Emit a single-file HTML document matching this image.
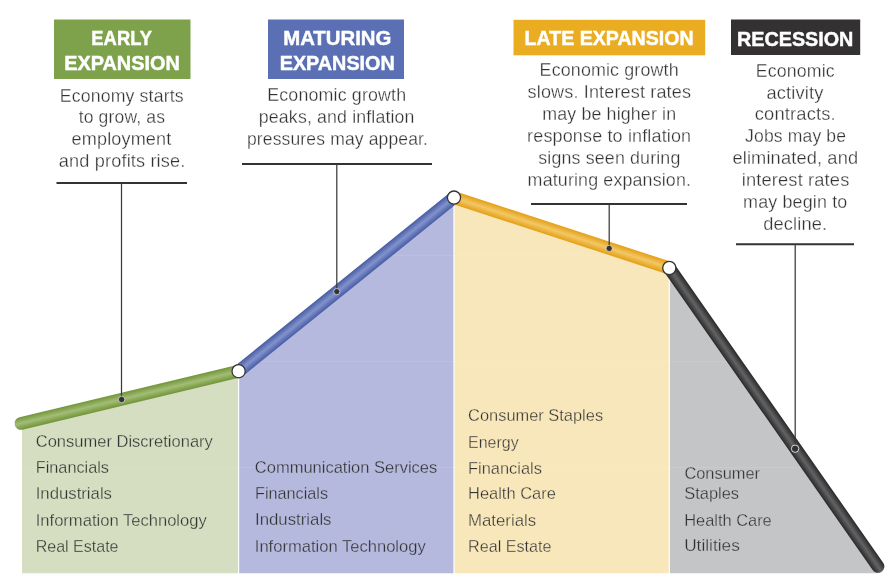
<!DOCTYPE html>
<html>
<head>
<meta charset="utf-8">
<style>
html,body{margin:0;padding:0;background:#fff;width:888px;height:583px;overflow:hidden}
svg{display:block;will-change:transform}
text{font-family:"Liberation Sans",sans-serif}
.t{font-weight:bold;font-size:19.8px;fill:#fff;stroke-width:0.45px}
.d{font-size:18.2px;letter-spacing:0.15px;fill:#323232;stroke-width:0.3px}
.l{font-size:16.6px;fill:#323232;stroke-width:0.32px}
</style>
</head>
<body>
<svg width="888" height="583" viewBox="0 0 888 583">
<defs>
<linearGradient id="g0" gradientUnits="userSpaceOnUse" x1="128.30" y1="391.03" x2="131.30" y2="403.57"><stop offset="0" stop-color="#76993f"/><stop offset="0.06" stop-color="#76993f"/><stop offset="0.5" stop-color="#a3bd76"/><stop offset="0.94" stop-color="#76993f"/><stop offset="1" stop-color="#76993f"/></linearGradient>
<linearGradient id="g1" gradientUnits="userSpaceOnUse" x1="342.25" y1="279.38" x2="350.35" y2="289.42"><stop offset="0" stop-color="#4d62a8"/><stop offset="0.06" stop-color="#4d62a8"/><stop offset="0.5" stop-color="#8292cc"/><stop offset="0.94" stop-color="#4d62a8"/><stop offset="1" stop-color="#4d62a8"/></linearGradient>
<linearGradient id="g2" gradientUnits="userSpaceOnUse" x1="563.65" y1="226.67" x2="559.65" y2="238.93"><stop offset="0" stop-color="#e6a31c"/><stop offset="0.06" stop-color="#e6a31c"/><stop offset="0.5" stop-color="#f2c766"/><stop offset="0.94" stop-color="#e6a31c"/><stop offset="1" stop-color="#e6a31c"/></linearGradient>
<linearGradient id="g3" gradientUnits="userSpaceOnUse" x1="778.89" y1="413.50" x2="768.31" y2="420.90"><stop offset="0" stop-color="#2f2f30"/><stop offset="0.06" stop-color="#2f2f30"/><stop offset="0.5" stop-color="#636365"/><stop offset="0.94" stop-color="#2f2f30"/><stop offset="1" stop-color="#2f2f30"/></linearGradient>
</defs>
<polygon points="22,423.9 238.0,371.2 238.0,573.2 22,573.2" fill="#d5dec0"/>
<polygon points="239.2,371.2 453.4,197.6 453.4,573.2 239.2,573.2" fill="#b5b9dd"/>
<polygon points="454.6,197.6 668.6999999999999,268.0 668.6999999999999,573.2 454.6,573.2" fill="#f8e7bb"/>
<polygon points="669.9,268.0 877.9,566.4 877.9,573.2 669.9,573.2" fill="#c4c5c7"/>
<g stroke="#fff" stroke-opacity="0.09" stroke-width="1">
<line x1="22" y1="255.5" x2="878" y2="255.5"/>
<line x1="22" y1="361.5" x2="878" y2="361.5"/>
<line x1="22" y1="467.5" x2="878" y2="467.5"/>
</g>
<g fill="none" stroke-linecap="round" stroke-width="12.9">
<line x1="21.0" y1="423.4" x2="238.6" y2="371.2" stroke="url(#g0)"/>
<line x1="238.6" y1="371.2" x2="454.0" y2="197.6" stroke="url(#g1)"/>
<line x1="454.0" y1="197.6" x2="669.3" y2="268.0" stroke="url(#g2)"/>
<line x1="669.3" y1="268.0" x2="877.9" y2="566.4" stroke="url(#g3)"/>
</g>
<g fill="#fff" stroke="#333" stroke-width="1.3">
<circle cx="238.6" cy="371.2" r="6.6"/>
<circle cx="454.0" cy="197.6" r="6.6"/>
<circle cx="669.3" cy="268.0" r="6.6"/>
</g>
<rect x="54" y="19.5" width="136.5" height="59.5" fill="#7ea24c"/>
<rect x="268" y="19.5" width="136" height="59.5" fill="#5b70b4"/>
<rect x="513.5" y="19.8" width="191.7" height="35.5" fill="#eaad22"/>
<rect x="731" y="19.5" width="129.2" height="35.5" fill="#333132"/>
<g stroke="#333" stroke-width="2">
<line x1="56.5" y1="183" x2="187" y2="183"/>
<line x1="242" y1="164" x2="432" y2="164"/>
<line x1="531" y1="204" x2="687" y2="204"/>
<line x1="736" y1="244.2" x2="854" y2="244.2"/>
</g>
<g stroke="#3a3a3a" stroke-width="1.25">
<line x1="121.5" y1="183" x2="121.5" y2="399.5"/>
<line x1="336.8" y1="164" x2="336.8" y2="291.6"/>
<line x1="609.2" y1="204" x2="609.2" y2="248.4"/>
<line x1="795.2" y1="244.2" x2="795.2" y2="448.7"/>
</g>
<g fill="#333" stroke="#fff" stroke-width="0.6">
<circle cx="121.6" cy="399.5" r="3.2"/>
<circle cx="336.8" cy="291.6" r="3.1"/>
<circle cx="609.2" cy="248.4" r="3.1"/>
</g>
<circle cx="795.1" cy="448.7" r="3.7" fill="#333" stroke="#fff" stroke-width="0.8"/>
<text class="t" transform="matrix(0.9281 0 0 1.04 91.37 44.6)" stroke="#fff">EARLY</text>
<text class="t" transform="matrix(1.0044 0 0 1.04 64.20 70.0)" stroke="#fff">EXPANSION</text>
<text class="t" transform="matrix(1.0272 0 0 1.04 283.27 44.6)" stroke="#fff">MATURING</text>
<text class="t" transform="matrix(1.0000 0 0 1.04 279.70 70.0)" stroke="#fff">EXPANSION</text>
<text class="t" transform="matrix(0.9899 0 0 1.04 524.51 44.7)" stroke="#fff">LATE EXPANSION</text>
<text class="t" transform="matrix(0.9983 0 0 1.04 737.00 45.5)" stroke="#fff">RECESSION</text>
<text class="d" transform="matrix(0.9734 0 0 1.0 59.78 101.7)" stroke="#fff">Economy starts</text>
<text class="d" transform="matrix(0.9640 0 0 1.0 78.70 123.4)" stroke="#fff">to grow, as</text>
<text class="d" transform="matrix(0.9919 0 0 1.0 71.61 145.1)" stroke="#fff">employment</text>
<text class="d" transform="matrix(0.9984 0 0 1.0 58.80 166.8)" stroke="#fff">and profits rise.</text>
<text class="d" transform="matrix(0.9807 0 0 1.0 267.22 100.7)" stroke="#fff">Economic growth</text>
<text class="d" transform="matrix(0.9753 0 0 1.0 258.82 122.7)" stroke="#fff">peaks, and inflation</text>
<text class="d" transform="matrix(0.9624 0 0 1.0 246.94 144.6)" stroke="#fff">pressures may appear.</text>
<text class="d" transform="matrix(0.9821 0 0 1.0 539.62 76.3)" stroke="#fff">Economic growth</text>
<text class="d" transform="matrix(0.9920 0 0 1.0 527.61 98.3)" stroke="#fff">slows. Interest rates</text>
<text class="d" transform="matrix(0.9793 0 0 1.0 542.22 120.2)" stroke="#fff">may be higher in</text>
<text class="d" transform="matrix(0.9890 0 0 1.0 527.11 142.1)" stroke="#fff">response to inflation</text>
<text class="d" transform="matrix(0.9797 0 0 1.0 538.32 164.0)" stroke="#fff">signs seen during</text>
<text class="d" transform="matrix(0.9811 0 0 1.0 527.62 185.9)" stroke="#fff">maturing expansion.</text>
<text class="d" transform="matrix(0.9747 0 0 1.0 755.83 76.8)" stroke="#fff">Economic</text>
<text class="d" transform="matrix(1.0055 0 0 1.0 766.49 98.6)" stroke="#fff">activity</text>
<text class="d" transform="matrix(1.0090 0 0 1.0 754.79 120.4)" stroke="#fff">contracts.</text>
<text class="d" transform="matrix(0.9654 0 0 1.0 745.10 142.3)" stroke="#fff">Jobs may be</text>
<text class="d" transform="matrix(1.0016 0 0 1.0 732.40 164.1)" stroke="#fff">eliminated, and</text>
<text class="d" transform="matrix(1.0038 0 0 1.0 741.80 186.0)" stroke="#fff">interest rates</text>
<text class="d" transform="matrix(0.9846 0 0 1.0 743.12 207.8)" stroke="#fff">may begin to</text>
<text class="d" transform="matrix(1.0033 0 0 1.0 763.20 229.7)" stroke="#fff">decline.</text>
<text class="l" transform="matrix(0.9960 0 0 1.0 35.70 447.0)" stroke="#d5dec0">Consumer Discretionary</text>
<text class="l" transform="matrix(0.9808 0 0 1.0 35.72 473.3)" stroke="#d5dec0">Financials</text>
<text class="l" transform="matrix(1.0095 0 0 1.0 35.69 499.3)" stroke="#d5dec0">Industrials</text>
<text class="l" transform="matrix(0.9994 0 0 1.0 35.70 525.5)" stroke="#d5dec0">Information Technology</text>
<text class="l" transform="matrix(0.9655 0 0 1.0 35.73 551.8)" stroke="#d5dec0">Real Estate</text>
<text class="l" transform="matrix(0.9940 0 0 1.0 254.81 473.1)" stroke="#b5b9dd">Communication Services</text>
<text class="l" transform="matrix(0.9781 0 0 1.0 255.02 498.6)" stroke="#b5b9dd">Financials</text>
<text class="l" transform="matrix(1.0122 0 0 1.0 254.99 525.1)" stroke="#b5b9dd">Industrials</text>
<text class="l" transform="matrix(0.9982 0 0 1.0 254.80 551.6)" stroke="#b5b9dd">Information Technology</text>
<text class="l" transform="matrix(0.9889 0 0 1.0 468.11 421.4)" stroke="#f8e7bb">Consumer Staples</text>
<text class="l" transform="matrix(0.9627 0 0 1.0 468.04 447.5)" stroke="#f8e7bb">Energy</text>
<text class="l" transform="matrix(0.9890 0 0 1.0 468.01 473.6)" stroke="#f8e7bb">Financials</text>
<text class="l" transform="matrix(0.9920 0 0 1.0 468.01 499.4)" stroke="#f8e7bb">Health Care</text>
<text class="l" transform="matrix(1.0136 0 0 1.0 467.99 525.5)" stroke="#f8e7bb">Materials</text>
<text class="l" transform="matrix(0.9738 0 0 1.0 468.03 551.6)" stroke="#f8e7bb">Real Estate</text>
<text class="l" transform="matrix(0.9880 0 0 1.0 684.41 479.4)" stroke="#c4c5c7">Consumer</text>
<text class="l" transform="matrix(0.9907 0 0 1.0 684.21 499.4)" stroke="#c4c5c7">Staples</text>
<text class="l" transform="matrix(0.9885 0 0 1.0 684.21 525.5)" stroke="#c4c5c7">Health Care</text>
<text class="l" transform="matrix(1.0404 0 0 1.0 684.16 551.4)" stroke="#c4c5c7">Utilities</text>
</svg>
</body>
</html>
